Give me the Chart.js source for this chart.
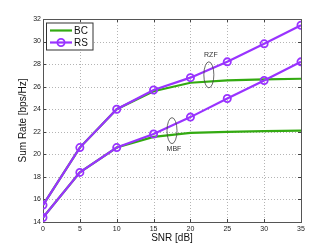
<!DOCTYPE html>
<html>
<head>
<meta charset="utf-8">
<script src="https://cdn.jsdelivr.net/npm/chart.js@4/dist/chart.umd.min.js"></script>
<style>
  html, body { margin: 0; padding: 0; background: #fff; }
  #wrap { width: 332px; height: 250px; position: relative; }
</style>
</head>
<body>
<div id="wrap"><canvas id="c"></canvas></div>
<script>
// SNR grid and sum rates
const snr = [0, 5, 10, 15, 20, 25, 30, 35];
const rzfRS = [15.5, 20.6, 24.0, 25.7, 26.8, 28.2, 29.8, 31.45];
const rzfBC = [15.5, 20.6, 24.0, 25.6, 26.35, 26.55, 26.65, 26.7];
const mbfRS = [14.4, 18.4, 20.6, 21.8, 23.3, 24.95, 26.55, 28.2];
const mbfBC = [14.4, 18.4, 20.6, 21.55, 21.9, 22.0, 22.05, 22.1];
const yTicks = [14, 16, 18, 20, 22, 24, 26, 28, 30, 32];
const xTicks = [0, 5, 10, 15, 20, 25, 30, 35];
// ellipse annotations: [label, snr, rate]
const notes = [['RZF', 22.5, 27.05], ['MBF', 17.5, 22.1]];

const GREEN = '#33aa11';
const PURPLE = '#9933ff';
const FONT = 'Liberation Sans, Arial, Helvetica, sans-serif';

const pts = (ys) => snr.map((x, i) => ({ x, y: ys[i] }));

const bcStyle = { borderColor: GREEN, backgroundColor: GREEN, borderWidth: 2.2, pointRadius: 0, tension: 0, order: 2 };
const rsStyle = { borderColor: PURPLE, backgroundColor: '#fff', borderWidth: 2.2, pointRadius: 3.6,
  pointBorderWidth: 1.8, pointBorderColor: PURPLE, pointBackgroundColor: 'rgba(255,255,255,0)', tension: 0, order: 1 };

const frame = {
  id: 'frame',
  beforeDatasetsDraw(chart) {
    const { ctx, chartArea: a, scales: { x, y } } = chart;
    ctx.save();
    // dotted grid
    ctx.strokeStyle = '#b4b4b4';
    ctx.lineWidth = 1;
    ctx.setLineDash([1, 2]);
    xTicks.forEach(v => {
      const px = Math.round(x.getPixelForValue(v)) + 0.5;
      ctx.beginPath(); ctx.moveTo(px, a.top); ctx.lineTo(px, a.bottom); ctx.stroke();
    });
    yTicks.forEach(v => {
      const py = Math.round(y.getPixelForValue(v)) + 0.5;
      ctx.beginPath(); ctx.moveTo(a.left, py); ctx.lineTo(a.right, py); ctx.stroke();
    });
    ctx.setLineDash([]);
    ctx.strokeStyle = '#444';
    // small inward ticks
    xTicks.forEach(v => {
      const px = Math.round(x.getPixelForValue(v)) + 0.5;
      ctx.beginPath(); ctx.moveTo(px, a.bottom); ctx.lineTo(px, a.bottom - 3);
      ctx.moveTo(px, a.top); ctx.lineTo(px, a.top + 3); ctx.stroke();
    });
    yTicks.forEach(v => {
      const py = Math.round(y.getPixelForValue(v)) + 0.5;
      ctx.beginPath(); ctx.moveTo(a.left, py); ctx.lineTo(a.left + 3, py);
      ctx.moveTo(a.right, py); ctx.lineTo(a.right - 3, py); ctx.stroke();
    });
    ctx.strokeStyle = '#555';
    ctx.strokeRect(Math.round(a.left) + 0.5, Math.round(a.top) + 0.5, Math.round(a.right - a.left), Math.round(a.bottom - a.top));
    ctx.restore();
  },
  afterDatasetsDraw(chart) {
    const { ctx, scales: { x, y } } = chart;
    ctx.save();
    // ellipses + labels
    notes.forEach(([txt, sx, sy]) => {
      const cx = x.getPixelForValue(sx), cy = y.getPixelForValue(sy);
      ctx.strokeStyle = '#444';
      ctx.lineWidth = 0.8;
      ctx.beginPath(); ctx.ellipse(cx, cy, 5, 13, 0, 0, Math.PI * 2); ctx.stroke();
      ctx.fillStyle = '#333';
      ctx.font = '7px ' + FONT;
      ctx.textAlign = 'center';
      ctx.textBaseline = 'middle';
      const dy = txt === 'RZF' ? -20 : 18;
      ctx.fillText(txt, cx + 2, cy + dy);
    });
    // legend box
    const lx = 46, ly = 22.5, lw = 46.5, lh = 27;
    ctx.fillStyle = '#fff';
    ctx.fillRect(lx, ly, lw, lh);
    ctx.strokeStyle = '#333';
    ctx.lineWidth = 1;
    ctx.strokeRect(lx + 0.5, ly + 0.5, lw, lh);
    ctx.font = '10px ' + FONT;
    ctx.textAlign = 'left';
    ctx.textBaseline = 'middle';
    const rows = [['BC', GREEN, false], ['RS', PURPLE, true]];
    rows.forEach(([name, col, mark], i) => {
      const yy = ly + 8 + i * 12;
      ctx.strokeStyle = col; ctx.lineWidth = 2.2;
      ctx.beginPath(); ctx.moveTo(lx + 4, yy); ctx.lineTo(lx + 26, yy); ctx.stroke();
      if (mark) {
        ctx.lineWidth = 1.8;
        ctx.beginPath(); ctx.arc(lx + 15, yy, 3.6, 0, Math.PI * 2); ctx.stroke();
      }
      ctx.fillStyle = '#111';
      ctx.fillText(name, lx + 28, yy + 0.5);
    });
    ctx.restore();
  }
};

new Chart(document.getElementById('c'), {
  type: 'line',
  data: {
    datasets: [
      { label: 'RZF BC', data: pts(rzfBC), ...bcStyle },
      { label: 'MBF BC', data: pts(mbfBC), ...bcStyle },
      { label: 'RZF RS', data: pts(rzfRS), ...rsStyle },
      { label: 'MBF RS', data: pts(mbfRS), ...rsStyle }
    ]
  },
  options: {
    responsive: true, maintainAspectRatio: false, animation: false,
    layout: { padding: { left: 0, top: 19, right: 31, bottom: 0 } },
    plugins: { legend: { display: false }, tooltip: { enabled: false } },
    scales: {
      x: {
        type: 'linear', min: 0, max: 35,
        afterBuildTicks: s => { s.ticks = xTicks.map(v => ({ value: v })); },
        afterFit: s => { s.height = 28; },
        grid: { display: false, drawTicks: false },
        border: { display: false },
        ticks: { color: '#222', font: { family: FONT, size: 7 }, padding: 3, maxRotation: 0 },
        title: { display: true, text: 'SNR [dB]', color: '#111', font: { family: FONT, size: 10 }, padding: { top: 0, bottom: 6 } }
      },
      y: {
        min: 14, max: 32,
        afterBuildTicks: s => { s.ticks = yTicks.map(v => ({ value: v })); },
        afterFit: s => { s.width = 43; },
        grid: { display: false, drawTicks: false },
        border: { display: false },
        ticks: { color: '#222', font: { family: FONT, size: 7 }, padding: 2 },
        title: { display: true, text: 'Sum Rate [bps/Hz]', color: '#111', font: { family: FONT, size: 10 }, padding: { top: 17, bottom: 0 } }
      }
    }
  },
  plugins: [frame]
});
</script>
</body>
</html>
